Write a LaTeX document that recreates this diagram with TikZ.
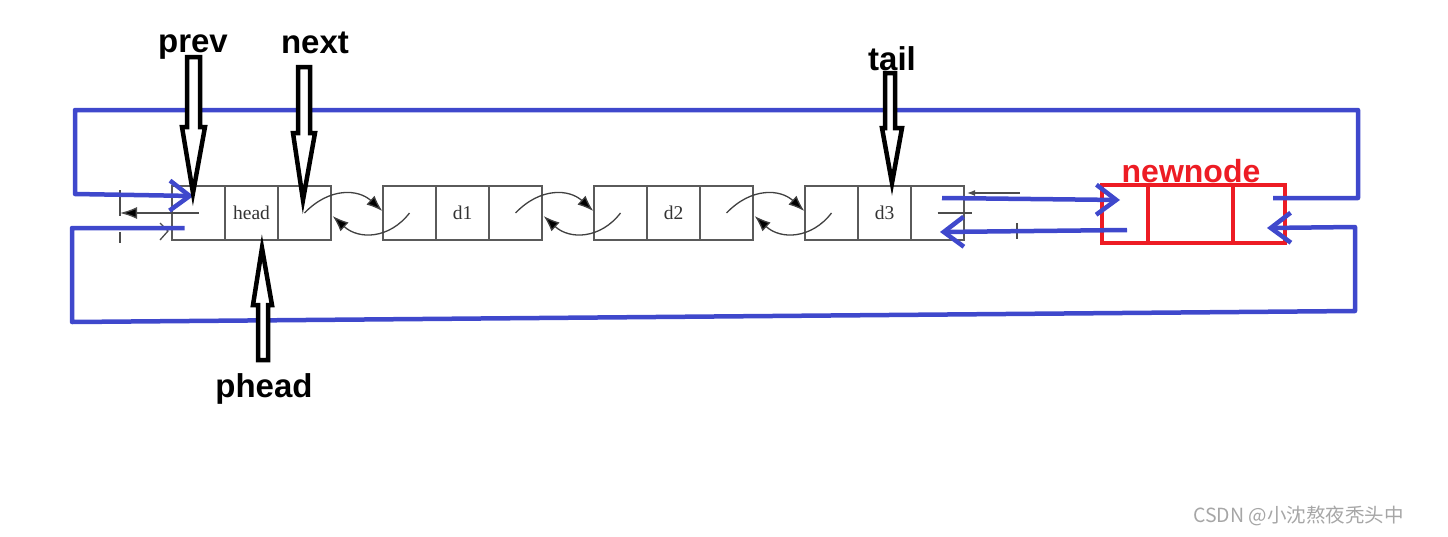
\documentclass[tikz,border=0pt]{standalone}
\usepackage{fontspec}
\setmainfont{Liberation Serif}
\newfontfamily\labfont{Liberation Sans}
\newfontfamily\cjkfont{Noto Sans CJK SC}
\usetikzlibrary{arrows.meta,calc}
\definecolor{penblue}{HTML}{3F48CC}
\definecolor{penred}{HTML}{ED1C24}
\definecolor{boxgray}{HTML}{5A5A5A}
\tikzset{
  cell/.style={draw=boxgray, line width=1.4pt, minimum width=53pt, minimum height=54pt, inner sep=0pt, font=\fontsize{19.5}{20}\selectfont, text=black!80},
  rcell/.style={draw=penred, line width=4pt, minimum height=58pt, inner sep=0pt},
  curv/.style={draw=black!75, line width=1.3pt, -{Latex[length=16pt,width=12pt,fill=black]}},
  thinl/.style={draw=black!70, line width=1.3pt},
  bl/.style={draw=penblue, line width=4.5pt, line join=round, -{Straight Barb[length=20pt,width=30pt]}},
  blk/.style={draw=black, line width=4.5pt, line join=miter, fill=white},
  lab/.style={font=\labfont\bfseries\fontsize{33}{36}\selectfont, inner sep=0pt, anchor=base}
}
\begin{document}
\begin{tikzpicture}[x=1pt,y=-1pt]
\useasboundingbox (0,0) rectangle (1448,536);
% list cells
\node[cell] (hp) at (198.5,213) {};
\node[cell] (hd) at (251.5,213) {head};
\node[cell] (hn) at (304.5,213) {};
\node[cell] (d1p) at (409.5,213) {};
\node[cell] (d1d) at (462.5,213) {d1};
\node[cell] (d1n) at (515.5,213) {};
\node[cell] (d2p) at (620.5,213) {};
\node[cell] (d2d) at (673.5,213) {d2};
\node[cell] (d2n) at (726.5,213) {};
\node[cell] (d3p) at (831.5,213) {};
\node[cell] (d3d) at (884.5,213) {d3};
\node[cell] (d3n) at (937.5,213) {};
% curved links
\foreach \a/\b in {hn/d1p, d1n/d2p, d2n/d3p}{
  \draw[curv] (\a.center) .. controls +(25,-26) and +(-24,-22) .. ($(\b.west)+(0,-2)$);
  \draw[curv] (\b.center) .. controls +(-20,26) and +(26,24) .. ($(\a.east)+(1,3)$);
}
% left stub of head
\coordinate (lb) at (120,213);
\draw[thinl] (120,190) -- (120,216);
\draw[thinl] (120,232) -- (120,243);
\draw[thinl,-{Latex[length=17pt,width=12pt,fill=black]}] (hp.center) -- (lb);
\draw[thinl] (160,223) -- (168,231) -- (160,240);
% right stub of d3
\coordinate (rb) at (967,193);
\draw[thinl,{Latex[length=8pt,width=6pt]}-] (rb) -- (1020,193);
\draw[thinl] (d3n.center) -- (972,213);
\draw[thinl] (1017,223) -- (1017,239);
% new node
\node[rcell, minimum width=46pt] (nn1) at (1125,214) {};
\node[rcell, minimum width=85pt] (nn2) at (1190.5,214) {};
\node[rcell, minimum width=52pt] (nn3) at (1259,214) {};
\node[lab, text=penred, font=\labfont\bfseries\fontsize{32}{34}\selectfont] (nnl) at (1191,182) {newnode};
% blue links
\draw[bl] ($(nn3.center)+(14,-16)$) -| (1358,110) -| (75,194) -- ($(hp.center)+(-5,-17)$);
\draw[bl] ($(hp.center)+(-14,15)$) -| (72,322) -- (1355,311) -- (1355,227) -- ($(nn3.center)+(8,14)$);
\draw[bl] ($(d3n.center)+(4.5,-15)$) -- ($(nn1.center)+(-5,-14)$);
\draw[bl] ($(nn1.center)+(2,16)$) -- ($(d3n.center)+(2.5,19)$);
% pointer labels
\node[lab] (prev) at (193,52) {prev};
\node[lab] (next) at (315,53) {next};
\node[lab] (tail) at (892,70) {tail};
\node[lab] (phead) at (264,397) {phead};
% block arrows
\draw[blk] (187,57) -- (200,57) -- (200,127) -- (205,127) -- (193,193) -- (182,127) -- (187,127) -- cycle;
\draw[blk] (298,67) -- (310,67) -- (310,133) -- (315,133) -- (303,200) -- (293,133) -- (298,133) -- cycle;
\draw[blk] (885,73) -- (895,73) -- (895,128) -- (902,128) -- (892,183) -- (882,128) -- (885,128) -- cycle;
\draw[blk] (258,360) -- (268,360) -- (268,305) -- (272,305) -- (262,248) -- (253,305) -- (258,305) -- cycle;
% watermark
\node[anchor=west, inner sep=0pt, text=black!35, font=\cjkfont\fontsize{19.5}{21}\selectfont] (wm) at (1193,516) {CSDN @小沈熬夜秃头中};
\end{tikzpicture}
\end{document}
